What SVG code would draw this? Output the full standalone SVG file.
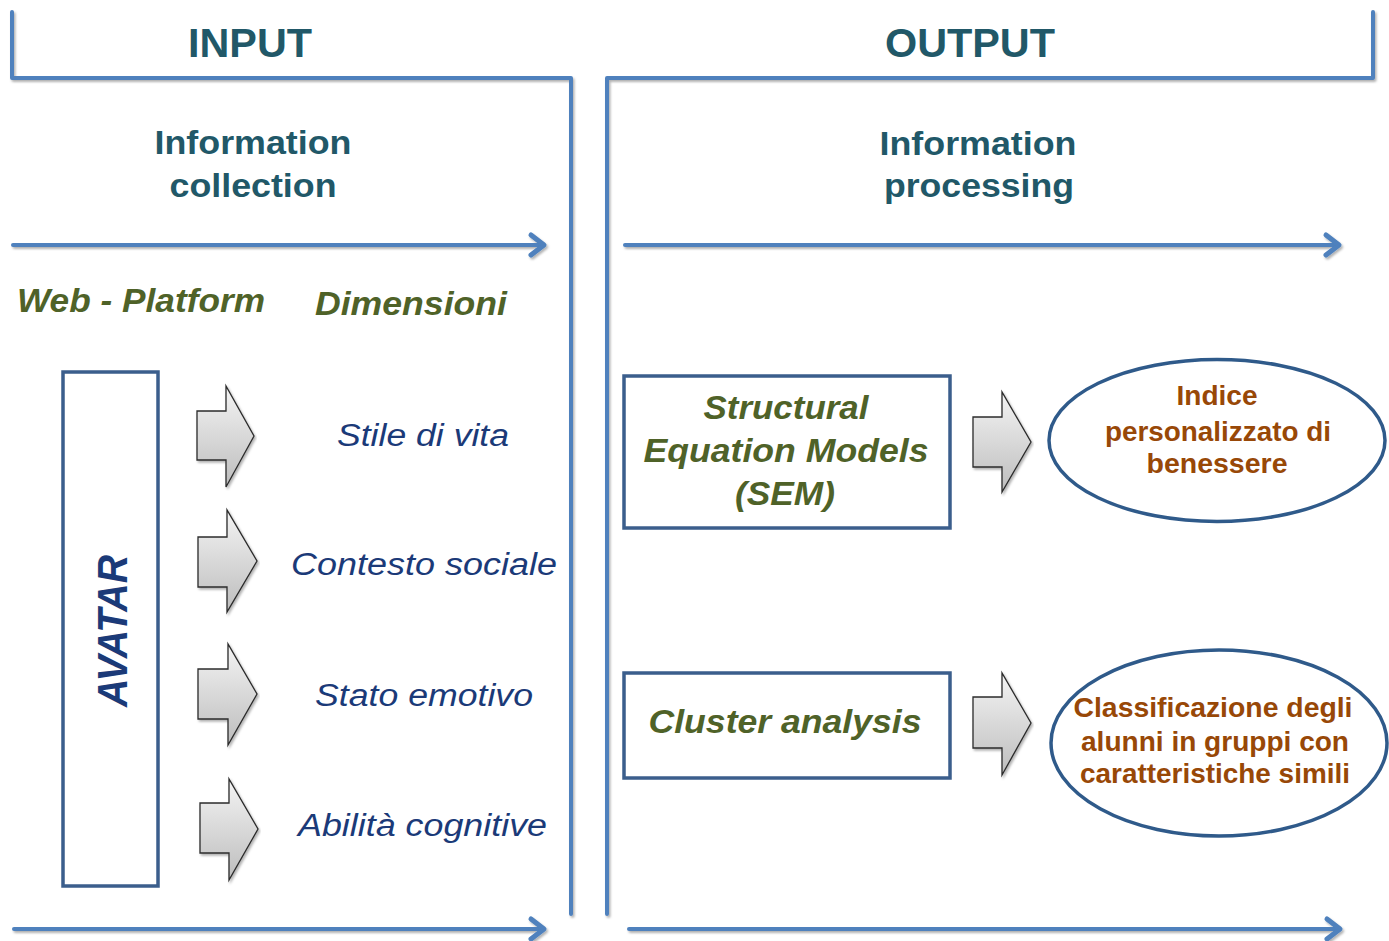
<svg xmlns="http://www.w3.org/2000/svg" width="1389" height="941" viewBox="0 0 1389 941">
<style>
.ln{fill:none;stroke:#4F81BD;stroke-width:4;stroke-linecap:round;stroke-linejoin:round}
.ah{fill:none;stroke:#4F81BD;stroke-width:5;stroke-linecap:round;stroke-linejoin:round}
.box{fill:#fff;stroke:#3B5E8C;stroke-width:3.5}
.ell{fill:#fff;stroke:#2F5A8A;stroke-width:3.5}
.blk{fill:url(#g);stroke:#2b2b2b;stroke-width:1.3;stroke-linejoin:miter}
text{font-family:"Liberation Sans",Arial,sans-serif}
.hd{font-size:41px;font-weight:bold;fill:#215868;text-anchor:middle}
.sub{font-size:34px;font-weight:bold;fill:#215868;text-anchor:middle}
.ol{font-size:33px;font-weight:bold;font-style:italic;fill:#4F6228}
.dim{font-size:31px;font-style:italic;fill:#1B3A78}
.sem{font-size:34px;font-weight:bold;font-style:italic;fill:#4F6228;text-anchor:middle}
.br{font-size:27px;font-weight:bold;fill:#984807;text-anchor:middle}
</style>
<defs>
<linearGradient id="g" x1="0" y1="0" x2="0" y2="1">
<stop offset="0" stop-color="#F4F4F4"/>
<stop offset="1" stop-color="#BDBDBD"/>
</linearGradient>
<filter id="sh" x="-5%" y="-5%" width="110%" height="110%">
<feDropShadow dx="1.5" dy="2" stdDeviation="1.2" flood-color="#000" flood-opacity="0.3"/>
</filter>
</defs>

<g id="connectors" filter="url(#sh)">
<polyline class="ln" points="12,12 12,78 571,78 571,914"/>
<polyline class="ln" points="607,914 607,78 1373,78 1373,12"/>
<line class="ln" x1="13" y1="245" x2="543" y2="245"/>
<polyline class="ah" points="531,235 544,245 531,255"/>
<line class="ln" x1="625" y1="245" x2="1338" y2="245"/>
<polyline class="ah" points="1326,235 1339,245 1326,255"/>
<line class="ln" x1="14" y1="929" x2="543" y2="929"/>
<polyline class="ah" points="531,919 544,929 531,939"/>
<line class="ln" x1="629" y1="929" x2="1339" y2="929"/>
<polyline class="ah" points="1327,919 1340,929 1327,939"/>
</g>

<g id="headers">
<text class="hd" x="250" y="57" textLength="124" lengthAdjust="spacingAndGlyphs">INPUT</text>
<text class="hd" x="970" y="57" textLength="170" lengthAdjust="spacingAndGlyphs">OUTPUT</text>
<text class="sub" x="253" y="154" textLength="197" lengthAdjust="spacingAndGlyphs">Information</text>
<text class="sub" x="253" y="197" textLength="167" lengthAdjust="spacingAndGlyphs">collection</text>
<text class="sub" x="978" y="155" textLength="197" lengthAdjust="spacingAndGlyphs">Information</text>
<text class="sub" x="979" y="197" textLength="190" lengthAdjust="spacingAndGlyphs">processing</text>
<text class="ol" x="17" y="312" textLength="248" lengthAdjust="spacingAndGlyphs">Web - Platform</text>
<text class="ol" x="315" y="315" textLength="192" lengthAdjust="spacingAndGlyphs">Dimensioni</text>
</g>

<g id="avatar">
<rect class="box" x="63" y="372" width="95" height="514"/>
<text x="0" y="0" transform="translate(127,631) rotate(-90)" text-anchor="middle" font-size="42" font-weight="bold" font-style="italic" fill="#1B3A78" textLength="152" lengthAdjust="spacingAndGlyphs">AVATAR</text>
</g>

<g id="arrow-1" filter="url(#sh)"><path class="blk" d="M197,411 L226,411 L226,386 L254,436 L226,487 L226,460 L197,460 Z"/></g>
<g id="arrow-2" filter="url(#sh)"><path class="blk" d="M198,537 L227,537 L227,510 L257,561 L227,612 L227,587 L198,587 Z"/></g>
<g id="arrow-3" filter="url(#sh)"><path class="blk" d="M198,669 L228,669 L228,644 L257,694 L228,745 L228,719 L198,719 Z"/></g>
<g id="arrow-4" filter="url(#sh)"><path class="blk" d="M200,803 L229,803 L229,779 L258,829 L229,880 L229,853 L200,853 Z"/></g>

<g id="dim-stile"><text class="dim" x="337" y="446" textLength="172" lengthAdjust="spacingAndGlyphs">Stile di vita</text></g>
<g id="dim-contesto"><text class="dim" x="291" y="575" textLength="266" lengthAdjust="spacingAndGlyphs">Contesto sociale</text></g>
<g id="dim-stato"><text class="dim" x="315" y="706" textLength="218" lengthAdjust="spacingAndGlyphs">Stato emotivo</text></g>
<g id="dim-abilita"><text class="dim" x="298" y="836" textLength="249" lengthAdjust="spacingAndGlyphs">Abilità cognitive</text></g>

<g id="sem">
<rect class="box" x="624" y="376" width="326" height="152"/>
<text class="sem" x="786" y="419" textLength="165" lengthAdjust="spacingAndGlyphs">Structural</text>
<text class="sem" x="786" y="462" textLength="285" lengthAdjust="spacingAndGlyphs">Equation Models</text>
<text class="sem" x="785" y="505" textLength="100" lengthAdjust="spacingAndGlyphs">(SEM)</text>
</g>
<g id="cluster">
<rect class="box" x="624" y="673" width="326" height="105"/>
<text class="sem" x="785" y="733" textLength="273" lengthAdjust="spacingAndGlyphs">Cluster analysis</text>
</g>

<g id="arrow-r1" filter="url(#sh)"><path class="blk" d="M973,417 L1002,417 L1002,392 L1031,442 L1002,492 L1002,467 L973,467 Z"/></g>
<g id="arrow-r2" filter="url(#sh)"><path class="blk" d="M973,697 L1002,697 L1002,673 L1031,723 L1002,775 L1002,748 L973,748 Z"/></g>

<g id="indice">
<ellipse class="ell" cx="1217" cy="440.5" rx="168" ry="81"/>
<text class="br" x="1217" y="405" textLength="81" lengthAdjust="spacingAndGlyphs">Indice</text>
<text class="br" x="1218" y="441" textLength="226" lengthAdjust="spacingAndGlyphs">personalizzato di</text>
<text class="br" x="1217" y="473" textLength="141" lengthAdjust="spacingAndGlyphs">benessere</text>
</g>
<g id="classificazione">
<ellipse class="ell" cx="1219" cy="743" rx="168" ry="93"/>
<text class="br" x="1213" y="717" textLength="279" lengthAdjust="spacingAndGlyphs">Classificazione degli</text>
<text class="br" x="1215" y="751" textLength="268" lengthAdjust="spacingAndGlyphs">alunni in gruppi con</text>
<text class="br" x="1215" y="783" textLength="270" lengthAdjust="spacingAndGlyphs">caratteristiche simili</text>
</g>
</svg>
